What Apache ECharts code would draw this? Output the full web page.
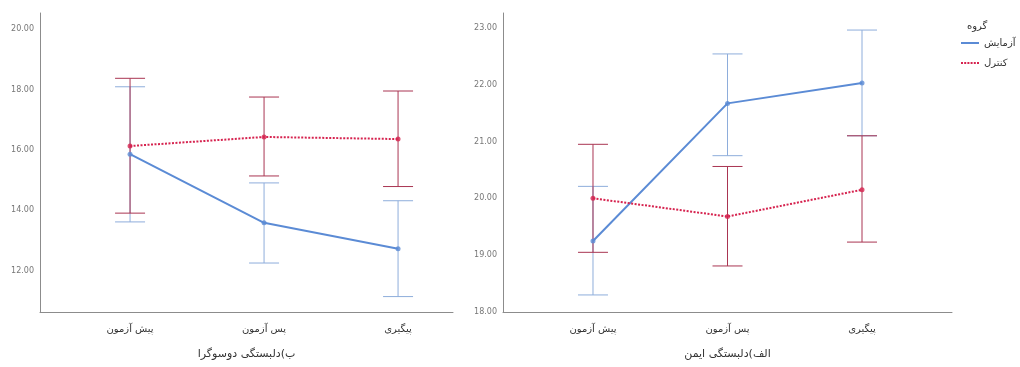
<!DOCTYPE html>
<html>
<head>
<meta charset="utf-8">
<script src="https://cdn.jsdelivr.net/npm/echarts@6/dist/echarts.min.js"></script>
<style>
  html, body { margin: 0; padding: 0; background: #ffffff; }
  #chart { width: 1020px; height: 367px; }
</style>
</head>
<body>
<div id="chart"></div>
<script>
// Time points (x categories)
const categories = ['پیش آزمون', 'پس آزمون', 'پیگیری'];
const groupNames = ['آزمایش', 'کنترل'];

// Panel ب: ambivalent attachment — means and error-bar limits
const ambExpMean = [15.86, 13.59, 12.73];
const ambExpLow  = [13.62, 12.26, 11.15];
const ambExpHigh = [18.09, 14.91, 14.32];
const ambCtlMean = [16.13, 16.43, 16.36];
const ambCtlLow  = [13.91, 15.14, 14.79];
const ambCtlHigh = [18.37, 17.75, 17.95];

// Panel الف: secure attachment — means and error-bar limits
const secExpMean = [19.25, 21.67, 22.03];
const secExpLow  = [18.30, 20.75, 21.10];
const secExpHigh = [20.21, 22.54, 22.96];
const secCtlMean = [20.00, 19.68, 20.15];
const secCtlLow  = [19.05, 18.81, 19.23];
const secCtlHigh = [20.95, 20.56, 21.10];

// Y tick labels of each panel
const ambTicks = [12, 14, 16, 18, 20];
const secTicks = [18, 19, 20, 21, 22, 23];

// Axis titles
const ambTitle = 'ب)دلبستگی دوسوگرا';
const secTitle = 'الف)دلبستگی ایمن';
const legendTitle = 'گروه';

const FONT = 'DejaVu Sans';
const BLUE = '#5b8bd5';
const BLUE_BAR = '#8eaddb';
const RED = '#d6234f';
const RED_BAR = '#a93552';

// Legend swatches: a solid stroke and a row of dots
const ICON_SOLID = 'path://M0,0H18V2H0Z';
const ICON_DOTTED = 'path://M0,0H2V2H0Z M3.2,0H5.2V2H3.2Z M6.4,0H8.4V2H6.4Z M9.6,0H11.6V2H9.6Z M12.8,0H14.8V2H12.8Z M16,0H18V2H16Z';

function pts(mean) { return mean.map((v, i) => [i, v]); }
function bars(lo, hi) { return lo.map((v, i) => [i, v, hi[i]]); }

function errorBarRender(color) {
  return function (params, api) {
    const x = api.value(0);
    const a = api.coord([x, api.value(1)]);
    const b = api.coord([x, api.value(2)]);
    const hw = 15;
    const style = { stroke: color, lineWidth: 1 };
    return {
      type: 'group',
      children: [
        { type: 'line', shape: { x1: a[0], y1: a[1], x2: b[0], y2: b[1] }, style },
        { type: 'line', shape: { x1: a[0] - hw, y1: a[1], x2: a[0] + hw, y2: a[1] }, style },
        { type: 'line', shape: { x1: b[0] - hw, y1: b[1], x2: b[0] + hw, y2: b[1] }, style }
      ]
    };
  };
}

function xAxisFor(gridIndex, min, max, name) {
  return {
    type: 'value', gridIndex, min, max,
    name, nameLocation: 'middle', nameGap: 37,
    nameTextStyle: { fontFamily: FONT, fontSize: 11, color: '#333' },
    axisLine: { show: true, onZero: false, lineStyle: { color: '#8c8c8c', width: 1 } },
    axisTick: { show: false },
    splitLine: { show: false },
    axisLabel: {
      customValues: [0, 1, 2],
      formatter: v => categories[Math.round(v)],
      fontFamily: FONT, fontSize: 10, color: '#333', margin: 12
    }
  };
}

function yAxisFor(gridIndex, min, max, ticks) {
  return {
    type: 'value', gridIndex, min, max,
    axisLine: { show: true, onZero: false, lineStyle: { color: '#8c8c8c', width: 1 } },
    axisTick: { show: false },
    splitLine: { show: false },
    axisLabel: {
      customValues: ticks,
      formatter: v => v.toFixed(2),
      fontFamily: FONT, fontSize: 8, color: '#777', margin: 6
    }
  };
}

function lineSeries(name, idx, mean, color, dotted) {
  return {
    name, type: 'line', xAxisIndex: idx, yAxisIndex: idx,
    data: pts(mean), symbol: 'none', z: 5,
    itemStyle: { color },
    lineStyle: { color, width: 2, type: dotted ? [2, 1.5] : 'solid' },
    animation: false
  };
}

function markerSeries(idx, mean, color) {
  return {
    type: 'scatter', xAxisIndex: idx, yAxisIndex: idx,
    data: pts(mean), symbol: 'circle', symbolSize: 5, z: 6,
    itemStyle: { color }, silent: true, animation: false
  };
}

function barSeries(idx, lo, hi, color) {
  return {
    type: 'custom', xAxisIndex: idx, yAxisIndex: idx,
    data: bars(lo, hi), renderItem: errorBarRender(color), z: 3,
    silent: true, animation: false
  };
}

const chart = echarts.init(document.getElementById('chart'), null, { renderer: 'canvas' });
chart.setOption({
  backgroundColor: '#ffffff',
  animation: false,
  title: {
    text: legendTitle, left: 962, top: 16,
    textStyle: { fontFamily: FONT, fontSize: 10, fontWeight: 'normal', color: '#333' }
  },
  legend: {
    data: [
      { name: groupNames[0], icon: ICON_SOLID },
      { name: groupNames[1], icon: ICON_DOTTED }
    ],
    orient: 'vertical', left: 956, top: 33,
    itemWidth: 18, itemHeight: 2, itemGap: 10,
    textStyle: { fontFamily: FONT, fontSize: 10, color: '#333' }
  },
  grid: [
    { left: 40, top: 13, width: 413, height: 299 },
    { left: 503, top: 13, width: 449, height: 299 }
  ],
  xAxis: [
    xAxisFor(0, -0.672, 2.41, ambTitle),
    xAxisFor(1, -0.669, 2.669, secTitle)
  ],
  yAxis: [
    yAxisFor(0, 10.64, 20.53, ambTicks),
    yAxisFor(1, 18, 23.26, secTicks)
  ],
  series: [
    barSeries(0, ambExpLow, ambExpHigh, BLUE_BAR),
    barSeries(0, ambCtlLow, ambCtlHigh, RED_BAR),
    lineSeries(groupNames[0], 0, ambExpMean, BLUE, false),
    lineSeries(groupNames[1], 0, ambCtlMean, RED, true),
    markerSeries(0, ambExpMean, BLUE),
    markerSeries(0, ambCtlMean, RED),
    barSeries(1, secExpLow, secExpHigh, BLUE_BAR),
    barSeries(1, secCtlLow, secCtlHigh, RED_BAR),
    lineSeries(groupNames[0], 1, secExpMean, BLUE, false),
    lineSeries(groupNames[1], 1, secCtlMean, RED, true),
    markerSeries(1, secExpMean, BLUE),
    markerSeries(1, secCtlMean, RED)
  ]
});
</script>
</body>
</html>
